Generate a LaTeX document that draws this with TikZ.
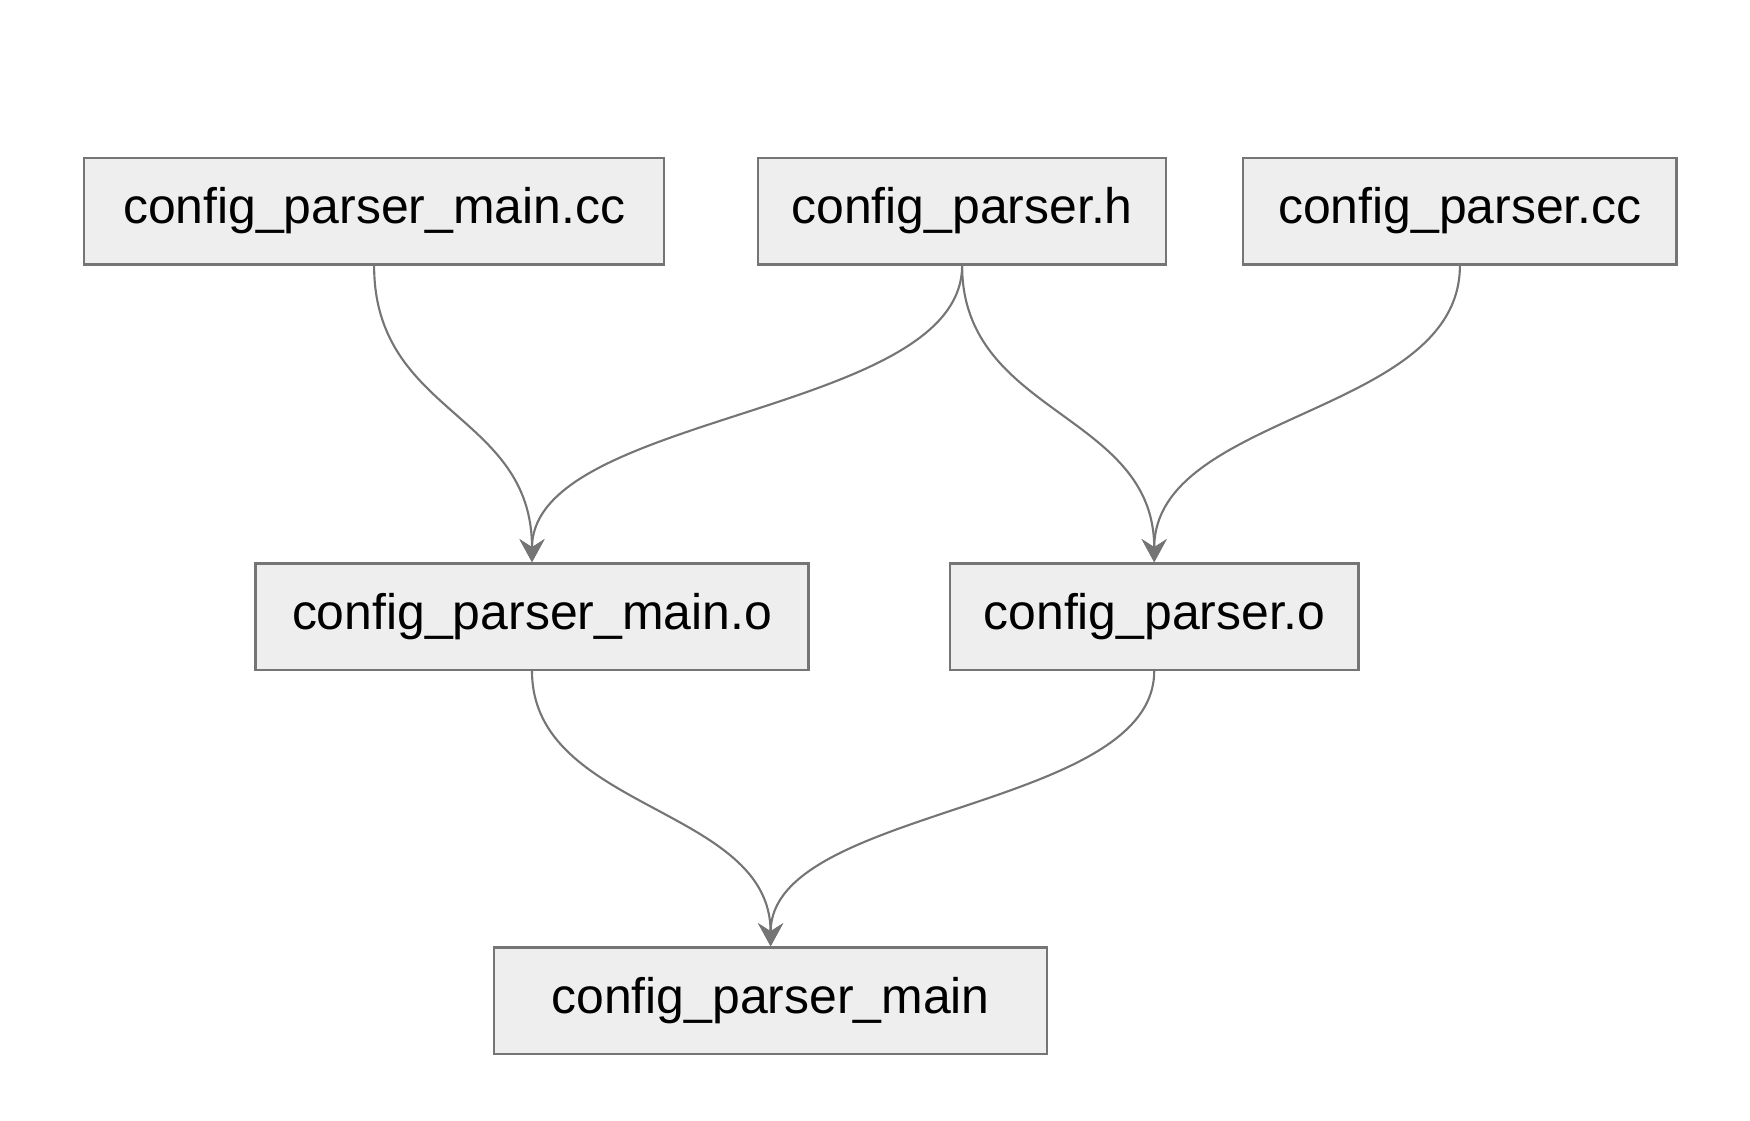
\documentclass[tikz,border=0pt]{standalone}
\usepackage{fontspec}
\setmainfont{Liberation Sans}
\usepackage{tikz}
\usepackage{xcolor}
\usetikzlibrary{arrows.meta}
\definecolor{box-fill}{HTML}{EEEEEE}
\definecolor{box-line}{HTML}{757575}
\tikzset{
    file-box/.style = {draw=box-line, fill=box-fill, line width=0.7pt, rectangle, inner xsep=0.3cm, minimum height=1.064cm, font=\fontsize{14.2}{16}\selectfont},
    dep-arrow/.style = {draw=box-line, line width=0.6pt, -{Stealth[length=0.23cm, width=0.25cm, inset=0.08cm]}},
}
\begin{document}
\begin{tikzpicture}
\useasboundingbox (0,0) rectangle (17.5,11.2);
\node [file-box, minimum width=5.80cm] (main-cc) at (3.741,9.089) {config\_parser\_main.cc};
\node [file-box, minimum width=4.077cm] (parser-h) at (9.621,9.089) {config\_parser.h};
\node [file-box, minimum width=4.334cm] (parser-cc) at (14.599,9.089) {config\_parser.cc};
\node [file-box, minimum width=5.533cm] (main-o) at (5.32,5.034) {config\_parser\_main.o};
\node [file-box, minimum width=4.088cm] (parser-o) at (11.542,5.034) {config\_parser.o};
\node [file-box, minimum width=5.533cm] (main-bin) at (7.706,1.193) {config\_parser\_main};
\draw [dep-arrow] (main-cc.south) .. controls +(0,-1.5) and +(0,1.5) .. (main-o.north);
\draw [dep-arrow] (parser-h.south) .. controls +(0,-1.5) and +(0,1.5) .. (main-o.north);
\draw [dep-arrow] (parser-h.south) .. controls +(0,-1.5) and +(0,1.5) .. (parser-o.north);
\draw [dep-arrow] (parser-cc.south) .. controls +(0,-1.5) and +(0,1.5) .. (parser-o.north);
\draw [dep-arrow] (main-o.south) .. controls +(0,-1.4) and +(0,1.4) .. (main-bin.north);
\draw [dep-arrow] (parser-o.south) .. controls +(0,-1.4) and +(0,1.4) .. (main-bin.north);
\end{tikzpicture}
\end{document}
